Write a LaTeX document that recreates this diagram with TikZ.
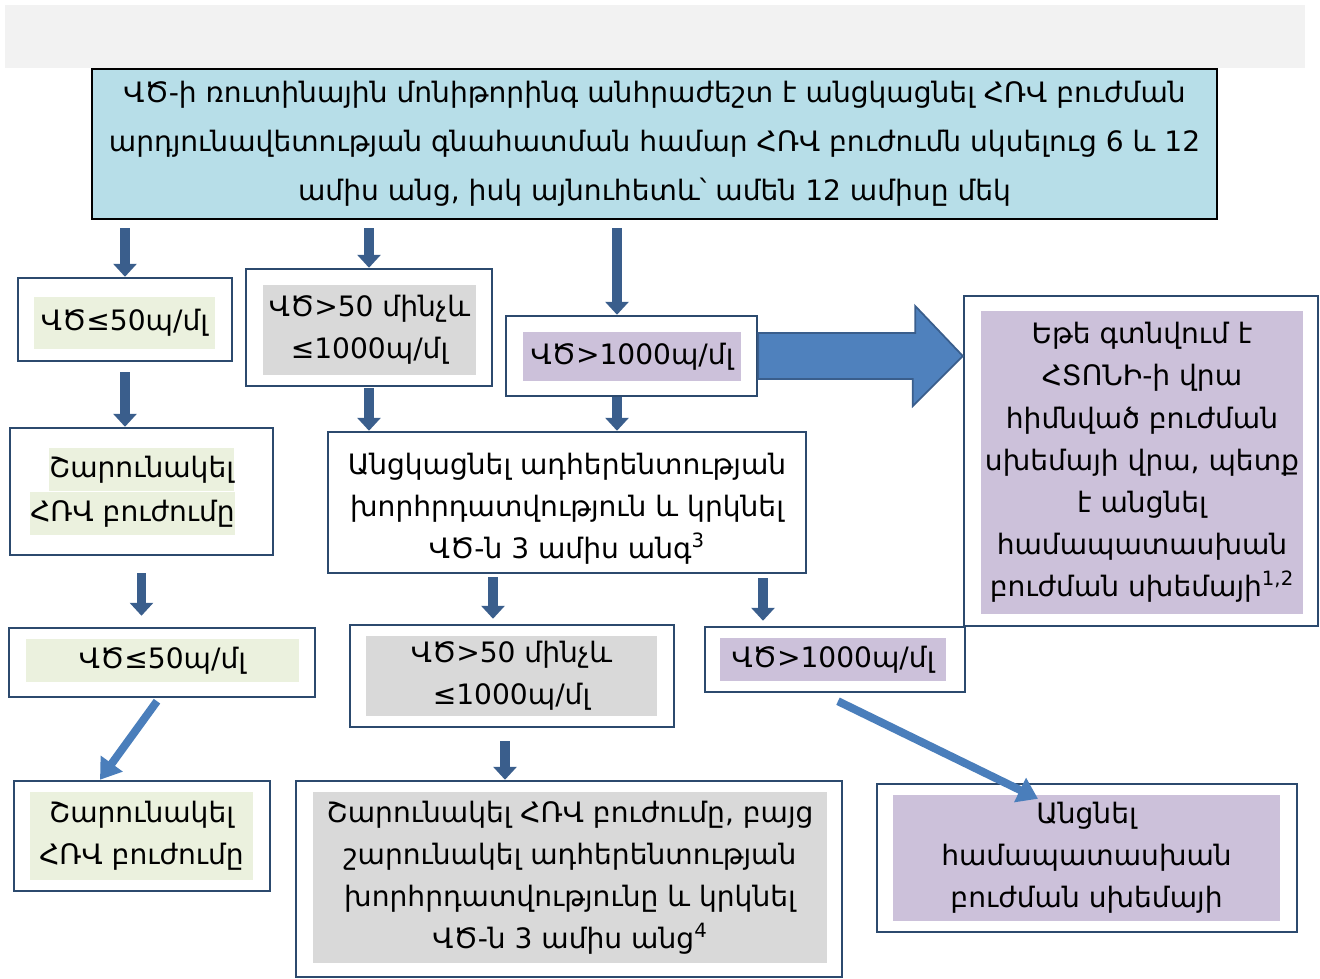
\documentclass[tikz,border=0pt]{standalone}
\usepackage{fontspec}
\setmainfont{DejaVu Sans}
\usetikzlibrary{arrows.meta}

\definecolor{hlblue}{HTML}{B7DEE8}
\definecolor{hlgreen}{HTML}{EBF1DE}
\definecolor{hlgrey}{HTML}{D9D9D9}
\definecolor{hlviolet}{HTML}{CCC1DA}
\definecolor{edgeblue}{HTML}{2C4A6E}
\definecolor{arrdark}{HTML}{3A5E8C}
\definecolor{arrlight}{HTML}{4A7EBB}
\definecolor{bigblue}{HTML}{4F81BD}
\definecolor{bandgrey}{HTML}{F2F2F2}

\begin{document}
\begin{tikzpicture}[x=0.02cm, y=-0.02cm,
  box/.style={draw=edgeblue, line width=1.4pt, fill=white, inner sep=0pt},
  txt/.style={inner sep=0pt, align=center, font=\fontsize{16}{24}\selectfont},
  down/.style={draw=arrdark, line width=0.2cm, -{Triangle[width=0.46cm,length=0.26cm]}},
  slant/.style={draw=arrlight, line width=0.16cm, -{Triangle[width=0.52cm,length=0.4cm]}},
  bigarrow/.style={fill=bigblue, draw=arrdark, line width=1pt, line join=miter}
]

\useasboundingbox (0,0) rectangle (1320,979);

% band on top
\fill[bandgrey] (5,5) rectangle (1305,68);

% monitoring box
\node[draw=black, line width=1.4pt, fill=hlblue, minimum width=22.5cm, minimum height=3cm,
      align=center, font=\fontsize{16}{28}\selectfont] (monit) at (654.5,144)
  {ՎԾ-ի ռուտինային մոնիթորինգ անհրաժեշտ է անցկացնել ՀՌՎ բուժման\\
   արդյունավետության գնահատման համար ՀՌՎ բուժումն սկսելուց 6 և 12\\
   ամիս անց, իսկ այնուհետև՝ ամեն 12 ամիսը մեկ};

% first row
\node[box, minimum width=4.28cm, minimum height=1.66cm] (low1) at (125,319.5) {};
\node[txt, fill=hlgreen, minimum width=3.62cm, minimum height=1.04cm] (low1t) at (124.5,323) {ՎԾ≤50պ/մլ};

\node[box, minimum width=4.92cm, minimum height=2.34cm] (mid1) at (369,327.5) {};
\node[txt, fill=hlgrey, minimum width=4.26cm, minimum height=1.8cm] (mid1t) at (369.5,330) {ՎԾ>50 մինչև\\≤1000պ/մլ};

\node[box, minimum width=5.02cm, minimum height=1.6cm] (high1) at (631.5,356) {};
\node[txt, fill=hlviolet, minimum width=4.36cm, minimum height=0.98cm] (high1t) at (632,356.5) {ՎԾ>1000պ/մլ};

\node[box, minimum width=7.08cm, minimum height=6.6cm] (nnrti) at (1141,461) {};
\node[txt, fill=hlviolet, minimum width=6.44cm, minimum height=6.06cm] (nnrtit) at (1142,462.5)
  {Եթե գտնվում է\\ ՀՏՈՆԻ-ի վրա\\ հիմնված բուժման\\ սխեմայի վրա, պետք\\ է անցնել\\ համապատասխան\\ բուժման սխեմայի\textsuperscript{1,2}};

% second row
\node[box, minimum width=5.26cm, minimum height=2.54cm] (cont1) at (141.5,491.5) {};
\node[txt, fill=hlgreen, minimum width=3.62cm, minimum height=0.86cm] (cont1a) at (141.5,469.5) {Շարունակել};
\node[txt, fill=hlgreen, minimum width=3.82cm, minimum height=0.86cm] (cont1b) at (132.5,513.5) {ՀՌՎ բուժումը};

\node[box, minimum width=9.56cm, minimum height=2.82cm] (adh) at (567,502.5) {};
\node[txt] (adht) at (567,509)
  {Անցկացնել ադհերենտության\\ խորհրդատվություն և կրկնել\\ ՎԾ-ն 3 ամիս անգ\textsuperscript{3}};

% third row
\node[box, minimum width=6.12cm, minimum height=1.38cm] (low2) at (162,662.5) {};
\node[txt, fill=hlgreen, minimum width=5.46cm, minimum height=0.86cm] (low2t) at (162.5,660.5) {ՎԾ≤50պ/մլ};

\node[box, minimum width=6.48cm, minimum height=2.04cm] (mid2) at (512,676) {};
\node[txt, fill=hlgrey, minimum width=5.82cm, minimum height=1.6cm] (mid2t) at (511.5,676) {ՎԾ>50 մինչև\\≤1000պ/մլ};

\node[box, minimum width=5.2cm, minimum height=1.3cm] (high2) at (835,659.5) {};
\node[txt, fill=hlviolet, minimum width=4.52cm, minimum height=0.86cm] (high2t) at (833,659.5) {ՎԾ>1000պ/մլ};

% last row
\node[box, minimum width=5.12cm, minimum height=2.2cm] (cont2) at (142,836) {};
\node[txt, fill=hlgreen, minimum width=4.46cm, minimum height=1.76cm] (cont2t) at (141.5,836) {Շարունակել\\ ՀՌՎ բուժումը};

\node[box, minimum width=10.92cm, minimum height=3.92cm] (contadh) at (569,879) {};
\node[txt, fill=hlgrey, minimum width=10.28cm, minimum height=3.42cm] (contadht) at (570,877.5)
  {Շարունակել ՀՌՎ բուժումը, բայց\\ շարունակել ադհերենտության\\ խորհրդատվությունը և կրկնել\\ ՎԾ-ն 3 ամիս անց\textsuperscript{4}};

\node[box, minimum width=8.4cm, minimum height=2.96cm] (switch) at (1087,858) {};
\node[txt, fill=hlviolet, minimum width=7.74cm, minimum height=2.52cm] (switcht) at (1086.5,858)
  {Անցնել\\ համապատասխան\\ բուժման սխեմայի};

% columns of the arrows
\coordinate (colh) at (617,0);
\coordinate (colm) at (493,0);
\coordinate (colc) at (505,0);
\coordinate (colr) at (763,0);

% arrows
\draw[down, shorten <=0.16cm] (monit.south -| low1.north) -- (low1.north);
\draw[down, shorten <=0.16cm] (monit.south -| mid1.north) -- (mid1.north);
\draw[down, shorten <=0.16cm] (monit.south -| colh) -- (high1.north -| colh);

\draw[down, shorten <=0.2cm] (low1.south) -- (low1.south |- cont1.north);
\draw[down, shorten <=0.02cm] (mid1.south) -- (mid1.south |- adh.north);
\draw[down] (high1.south -| colh) -- (adh.north -| colh);

\draw[down, shorten <=0.34cm, shorten >=0.22cm] (cont1.south) -- (cont1.south |- low2.north);
\draw[down, shorten <=0.06cm, shorten >=0.1cm] (adh.south -| colm) -- (mid2.north -| colm);
\draw[down, shorten <=0.08cm, shorten >=0.1cm] (adh.south -| colr) -- (high2.north -| colr);
\draw[down, shorten <=0.26cm] (mid2.south -| colc) -- (contadh.north -| colc);

\draw[slant] ([xshift=-0.1cm,yshift=-0.06cm]low2.south) -- ([xshift=-0.84cm]cont2.north);
\draw[slant] ([xshift=0.06cm,yshift=-0.16cm]high2.south) -- ([xshift=-0.98cm,yshift=-0.32cm]switch.north);

% big arrow to the right box
\draw[bigarrow] ([yshift=0.46cm]high1.east) -- ++(157,0) -- ++(0,-27)
  -- (nnrti.west |- high1.east) -- ++(-50,50) -- ++(0,-27)
  -- ([yshift=-0.46cm]high1.east) -- cycle;

\end{tikzpicture}
\end{document}
